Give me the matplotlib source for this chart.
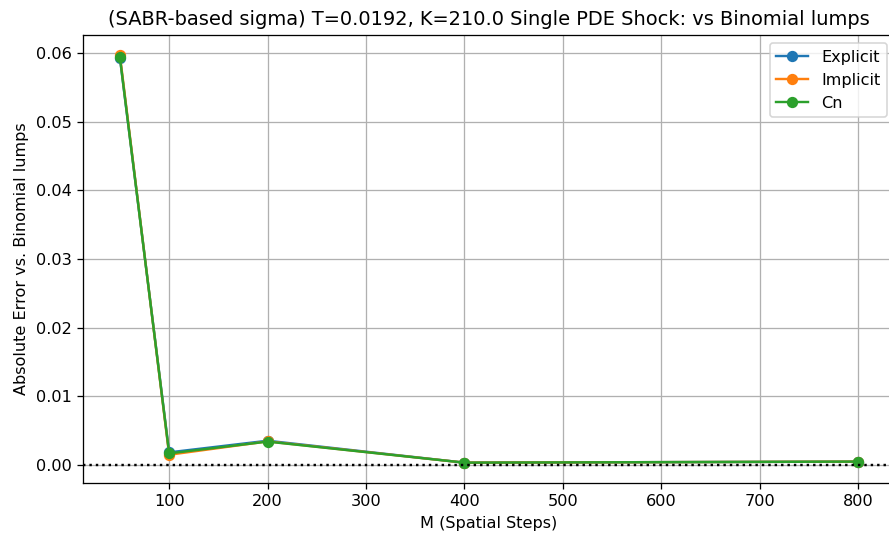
import numpy as np
import matplotlib.pyplot as plt

# spatial grid sizes
M_values = [50, 100, 200, 400, 800]

# absolute errors vs binomial lumps
err_explicit = [0.0593, 0.0018, 0.0035, 0.0003, 0.00045]
err_implicit = [0.0597, 0.00145, 0.0034, 0.0003, 0.00045]
err_cn = [0.0594, 0.00165, 0.00337, 0.0003, 0.00045]

# reference looks rendered at ~116 dpi
dpi = 116
fig = plt.figure(figsize=(889 / dpi, 538 / dpi), dpi=dpi)
ax = fig.add_axes([0.0934, 0.1022, 0.9133, 0.8327])

ax.plot(M_values, err_explicit, marker='o', label='Explicit')
ax.plot(M_values, err_implicit, marker='o', label='Implicit')
ax.plot(M_values, err_cn, marker='o', label='Cn')
ax.axhline(0, color='black', linestyle=':')

ax.set_title('(SABR-based sigma) T=0.0192, K=210.0 Single PDE Shock: vs Binomial lumps')
ax.set_xlabel('M (Spatial Steps)')
ax.set_ylabel('Absolute Error vs. Binomial lumps')
ax.grid(True)
ax.legend(loc='upper right')

fig.savefig('out.png', dpi=dpi)
